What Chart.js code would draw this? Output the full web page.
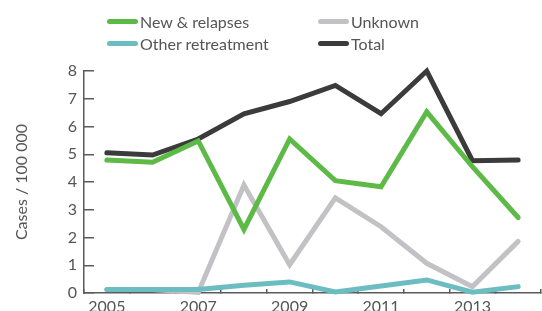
<!DOCTYPE html>
<html>
<head>
<meta charset="utf-8">
<script src="https://cdn.jsdelivr.net/npm/chart.js@4/dist/chart.umd.min.js"></script>
<style>
  body { margin: 0; background: #fff; }
  #wrap { position: relative; width: 542px; height: 311px; }
  #legend { position: absolute; left: 107px; top: 12px; font-family: Lato, sans-serif; font-size: 16px; color: #555; }
  .item { position: absolute; white-space: nowrap; display: flex; align-items: center; }
  .swatch { width: 31px; height: 5px; border-radius: 3px; margin-right: 2px; }
</style>
</head>
<body>
<div id="wrap">
  <canvas id="chart" width="542" height="311"></canvas>
  <div id="legend"></div>
</div>
<script>
const years = ["2005", "2006", "2007", "2008", "2009", "2010", "2011", "2012", "2013", "2014"];
const newRelapses = [4.79, 4.71, 5.48, 2.29, 5.55, 4.05, 3.83, 6.53, 4.55, 2.72];
const otherRetreatment = [0.13, 0.13, 0.13, 0.28, 0.40, 0.04, 0.25, 0.47, 0.03, 0.23];
const unknown = [0.13, 0.13, 0.02, 3.89, 1.02, 3.43, 2.39, 1.07, 0.23, 1.86];
const total = [5.05, 4.97, 5.55, 6.46, 6.90, 7.48, 6.46, 8.00, 4.77, 4.79];
const yTicks = [0, 1, 2, 3, 4, 5, 6, 7, 8];

const axisColor = "#5b5b5b";
const textColor = "#555";

function line(label, values, color, order) {
  return {
    label: label,
    data: values,
    borderColor: color,
    backgroundColor: color,
    borderWidth: 5,
    pointRadius: 0,
    tension: 0,
    borderCapStyle: "round",
    borderJoinStyle: "miter",
    order: order,
    clip: false
  };
}

const datasets = [
  line("New & relapses", newRelapses, "#5dba47", 2),
  line("Unknown", unknown, "#c2c2c6", 4),
  line("Other retreatment", otherRetreatment, "#6bbdc1", 1),
  line("Total", total, "#3b3b3b", 3)
];

const chart = new Chart(document.getElementById("chart"), {
  type: "line",
  data: { labels: years, datasets: datasets },
  options: {
    responsive: false,
    animation: false,
    layout: { padding: { top: 71, right: 1, left: 0, bottom: 0 } },
    plugins: { legend: { display: false }, tooltip: { enabled: false } },
    scales: {
      x: {
        offset: true,
        grid: { offset: true, drawOnChartArea: false, tickLength: -4, color: axisColor, lineWidth: 1.5 },
        border: { color: axisColor, width: 1.5 },
        ticks: {
          autoSkip: false, maxRotation: 0, padding: 8,
          color: textColor, font: { family: "Lato", size: 16 },
          callback: (v, i) => (i % 2 === 0 ? years[i] : "")
        },
        afterFit: s => { s.height = 18; }
      },
      y: {
        min: 0, max: 8,
        afterBuildTicks: s => { s.ticks = yTicks.map(v => ({ value: v })); },
        grid: { drawOnChartArea: false, tickLength: -10, color: axisColor, lineWidth: 1.5 },
        border: { color: axisColor, width: 1.5 },
        ticks: { padding: 17, color: textColor, font: { family: "Lato", size: 16 } },
        title: {
          display: true, text: "Cases / 100 000", color: textColor,
          font: { family: "Lato", size: 16 }, padding: { top: 12, bottom: 0 }
        },
        afterFit: s => { s.width = 84; s.paddingBottom = 0; s.paddingTop = 0; }
      }
    }
  }
});

// legend: 2 columns x 2 rows, same order as the reference
const legendPos = [[0, 0], [211, 0], [0, 22], [211, 22]];
const legendEl = document.getElementById("legend");
datasets.forEach((ds, i) => {
  const el = document.createElement("div");
  el.className = "item";
  el.style.left = legendPos[i][0] + "px";
  el.style.top = legendPos[i][1] + "px";
  el.innerHTML = '<span class="swatch" style="background:' + ds.borderColor + '"></span>' + ds.label;
  legendEl.appendChild(el);
});
</script>
</body>
</html>
